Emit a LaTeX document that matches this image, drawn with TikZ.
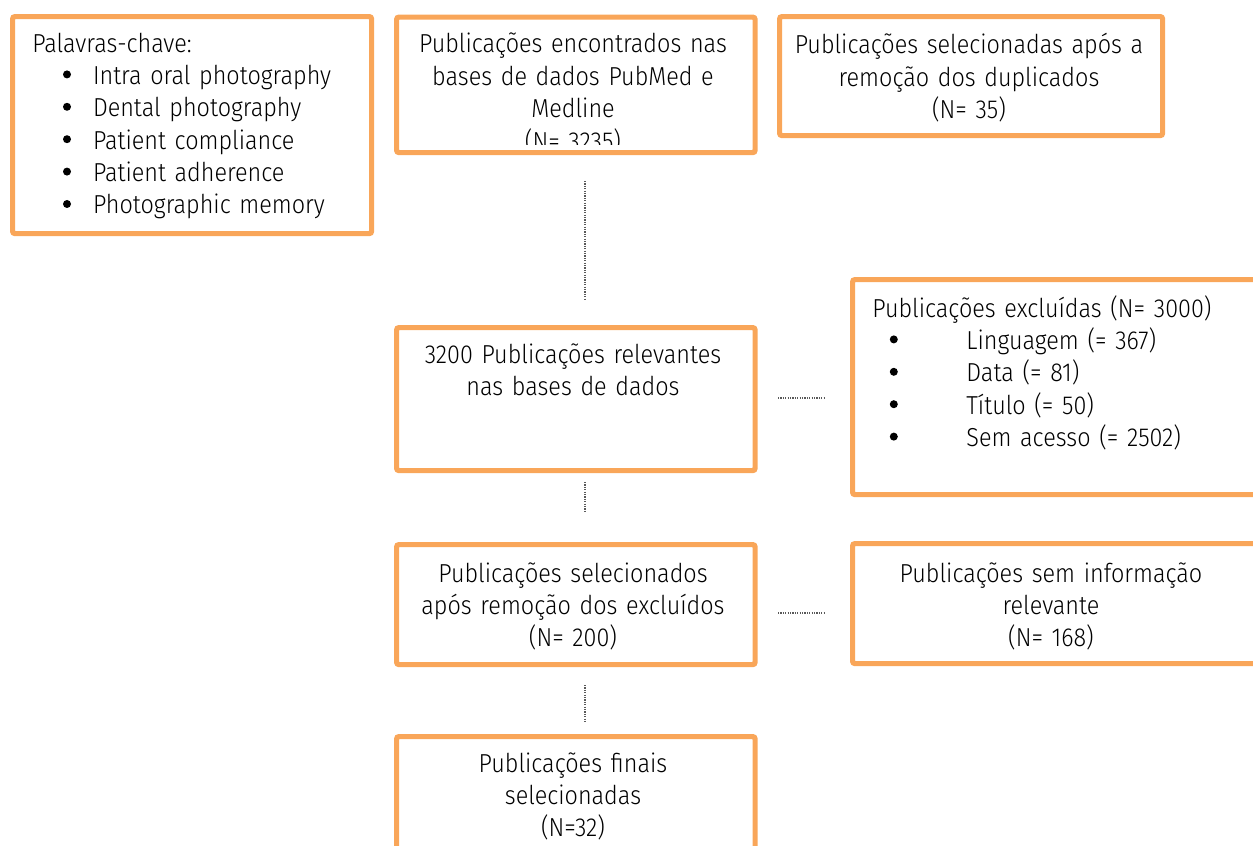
\documentclass[tikz,border=0pt]{standalone}
\usepackage{fontspec}
\setmainfont{Fira Sans}[UprightFont=* Light, FakeStretch=0.9]
\definecolor{boxorange}{RGB}{249,166,89}
\tikzset{
  box/.style={draw=boxorange, line width=2.6pt, rounded corners=1.2pt, inner sep=0pt, anchor=north west},
  txt/.style={inner sep=0pt, anchor=base, align=center, text width=190pt, font=\fontsize{13pt}{16.2pt}\selectfont},
  lefttxt/.style={txt, align=left, anchor=base west},
  link/.style={line width=0.6pt, black!65, dash pattern=on 0.6pt off 0.6pt},
}
\newcommand{\bul}{\tikz[baseline=-5pt]\fill (0,0) circle (2pt);}
\newcommand{\kwitem}[1]{\hspace*{15.3pt}\makebox[15pt][l]{\bul}#1}
\newcommand{\excitem}[1]{\hspace*{8.7pt}\makebox[38.3pt][l]{\bul}#1}
\begin{document}
\begin{tikzpicture}[x=0.5pt, y=-0.5pt]
  \useasboundingbox (0,0) rectangle (1253,846);
  \clip (0,0) rectangle (1253,846);

  % boxes
  \node[box, minimum width=179.5pt, minimum height=108.5pt] (kwbox) at (10,14) {};
  \node[box, minimum width=179.25pt, minimum height=67.75pt] (encbox) at (394,14.5) {};
  \node[box, minimum width=191.5pt, minimum height=59.5pt] (dupbox) at (777,14) {};
  \node[box, minimum width=179.25pt, minimum height=71.5pt] (relbox) at (394,325) {};
  \node[box, minimum width=230pt, minimum height=107.5pt] (excbox) at (850,277) {};
  \node[box, minimum width=179.25pt, minimum height=60pt] (selbox) at (394,542) {};
  \node[box, minimum width=230pt, minimum height=60pt] (semboxb) at (850,541) {};
  \node[box, minimum width=179.25pt, minimum height=90pt] (finbox) at (394,734) {};

  % texts
  \node[lefttxt] (kw) at (32,52) {Palavras-chave:\\
    \kwitem{Intra oral photography}\\
    \kwitem{Dental photography}\\
    \kwitem{Patient compliance}\\
    \kwitem{Patient adherence}\\
    \kwitem{Photographic memory}};
  \begin{scope}
    \clip (397,17) rectangle (750,144);
    \node[txt] (enc) at (573,53) {Publicações encontrados nas\\ bases de dados PubMed e\\ Medline\\ (N= 3235)};
  \end{scope}
  \node[txt] (dup) at (969,54) {Publicações selecionadas após a\\ remoção dos duplicados\\ (N= 35)};
  \node[txt] (rel) at (573,363) {3200 Publicações relevantes\\ nas bases de dados};
  \node[lefttxt] (exc) at (872,317) {Publicações excluídas (N= 3000)\\
    \excitem{Linguagem (= 367)}\\
    \excitem{Data (= 81)}\\
    \excitem{Título (= 50)}\\
    \excitem{Sem acesso (= 2502)}};
  \node[txt] (sel) at (573,582) {Publicações selecionados\\ após remoção dos excluídos\\ (N= 200)};
  \node[txt] (sem) at (1051,582) {Publicações sem informação\\ relevante\\ (N= 168)};
  \node[txt] (fin) at (573,772) {Publicações finais\\ selecionadas\\ (N=32)};

  % dotted links
  \coordinate (l1a) at (585,181);
  \coordinate (l1b) at (585,300);
  \coordinate (l2a) at (585,482);
  \coordinate (l2b) at (585,513);
  \coordinate (l3a) at (585,685);
  \coordinate (l3b) at (585,722);
  \coordinate (h1a) at (778,398);
  \coordinate (h1b) at (825,398);
  \coordinate (h2a) at (778,613);
  \coordinate (h2b) at (825,613);
  \draw[link] (l1a) -- (l1b);
  \draw[link] (l2a) -- (l2b);
  \draw[link] (l3a) -- (l3b);
  \draw[link] (h1a) -- (h1b);
  \draw[link] (h2a) -- (h2b);
\end{tikzpicture}
\end{document}
